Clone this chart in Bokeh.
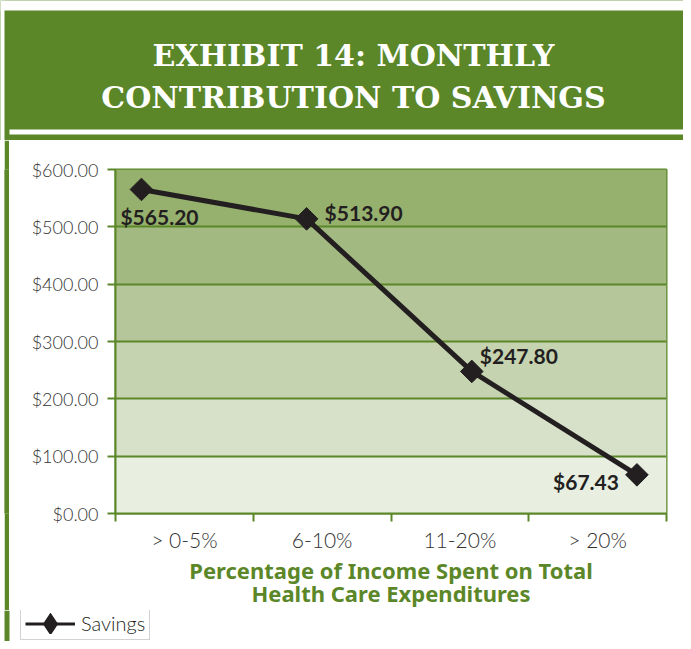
import math
from bokeh.plotting import figure
from bokeh.models import (Range1d, FixedTicker, NumeralTickFormatter,
                          BoxAnnotation, ColumnDataSource, Legend, LegendItem)
from bokeh.layouts import column, row
from bokeh.core.properties import value
from bokeh.embed import file_html
from bokeh.resources import INLINE

# ---------------- data ----------------
title_lines = ["EXHIBIT 14: MONTHLY", "CONTRIBUTION TO SAVINGS"]
categories = ["> 0-5%", "6-10%", "11-20%", "> 20%"]
savings = [565.20, 513.90, 247.80, 67.43]
series_name = "Savings"
y_ticks = [0, 100, 200, 300, 400, 500, 600]
x_axis_title = "Percentage of Income Spent on Total\nHealth Care Expenditures"

# ---------------- styles ----------------
GREEN = "#5b8728"
INK = "#231f20"
TICK_TXT = "#333333"
band_colors = ["#e8eee0", "#d7e0c8", "#c6d3b0", "#b5c79a", "#a2b982", "#96b06e"]
label_align = ["left", "left", "left", "right"]
label_dx = [-21, 18, 8, -18]
label_dy = [27, -6, -16, 7]
SERIES_RANGE = (0.343, 3.679)   # the series' own x-range, inset within the category axis

W = 683
HDR_H = 140
MAIN_H = 470
LEG_H = 31
STRIP_W = 9

# ---------------- header ----------------
hdr = figure(width=W, height=HDR_H, x_range=Range1d(0, W), y_range=Range1d(HDR_H, 0),
             output_backend="svg", toolbar_location=None, min_border=0,
             x_axis_type=None, y_axis_type=None)
hdr.grid.visible = False
hdr.outline_line_color = None
hdr.background_fill_color = GREEN
hdr.border_fill_color = GREEN
hdr.quad(left=[0, 0, STRIP_W], right=[W, 4, W], top=[0, 0, 129], bottom=[10, HDR_H, 134],
         fill_color="white", line_color=None)
hdr.text(x=[353, 353], y=[55, 97], text=title_lines, text_color="white",
         text_font=value("DejaVu Serif"), text_font_style="bold", text_font_size="30px",
         text_align="center", text_baseline="middle")

# ---------------- left border strip (green bar, 4px white gap on its left) ----------------
strip = figure(width=STRIP_W - 4, height=MAIN_H, output_backend="svg",
               toolbar_location=None, min_border=0, x_axis_type=None, y_axis_type=None,
               x_range=Range1d(0, 1), y_range=Range1d(0, 1), margin=(0, 0, 0, 4))
strip.grid.visible = False
strip.outline_line_color = None
strip.background_fill_color = GREEN
strip.border_fill_color = GREEN
strip.quad(left=[0], right=[1], bottom=[0], top=[1], fill_color=GREEN, line_color=None)

# ---------------- main chart ----------------
n = len(categories)
p = figure(width=W - STRIP_W, height=MAIN_H,
           x_range=Range1d(0, n), y_range=Range1d(y_ticks[0], y_ticks[-1]),
           output_backend="svg", toolbar_location=None,
           min_border_left=106, min_border_right=17, min_border_top=29, min_border_bottom=97)
p.extra_x_ranges = {"series": Range1d(*SERIES_RANGE)}
p.background_fill_color = "white"
p.border_fill_color = "white"
p.outline_line_color = GREEN
p.outline_line_width = 2

for lo, hi, c in zip(y_ticks[:-1], y_ticks[1:], band_colors):
    p.add_layout(BoxAnnotation(bottom=lo, top=hi, fill_color=c, fill_alpha=1,
                               line_color=None, level="image"))

p.xgrid.grid_line_color = None
p.ygrid.grid_line_color = GREEN
p.ygrid.grid_line_width = 2

centers = [i + 0.5 for i in range(n)]
bounds = list(range(n + 1))
xa = p.xaxis[0]
xa.ticker = FixedTicker(ticks=centers, minor_ticks=bounds)
xa.major_label_overrides = {c: cat for c, cat in zip(centers, categories)}
xa.axis_line_color = GREEN
xa.axis_line_width = 2
xa.major_tick_line_color = None
xa.major_tick_out = 8
xa.major_tick_in = 0
xa.minor_tick_line_color = GREEN
xa.minor_tick_line_width = 2
xa.minor_tick_out = 8
xa.minor_tick_in = 0
xa.major_label_standoff = 5
xa.major_label_text_font = "Lato Light"
xa.major_label_text_font_size = "21px"
xa.major_label_text_color = TICK_TXT
xa.axis_label = x_axis_title
xa.axis_label_text_font = "Noto Sans"
xa.axis_label_text_font_style = "bold"
xa.axis_label_text_font_size = "22px"
xa.axis_label_text_color = GREEN
xa.axis_label_text_align = "center"
xa.axis_label_text_line_height = 0.78
xa.axis_label_standoff = 0

ya = p.yaxis[0]
ya.ticker = FixedTicker(ticks=y_ticks)
ya.formatter = NumeralTickFormatter(format="$0,0.00")
ya.axis_line_color = GREEN
ya.axis_line_width = 2
ya.major_tick_line_color = GREEN
ya.major_tick_line_width = 2
ya.major_tick_out = 8
ya.major_tick_in = 0
ya.minor_tick_line_color = None
ya.major_label_standoff = 9
ya.major_label_text_font = "Lato Light"
ya.major_label_text_font_size = "18px"
ya.major_label_text_color = TICK_TXT

src = ColumnDataSource(dict(x=centers, cat=categories, val=savings,
                            label=[f"${v:,.2f}" for v in savings],
                            align=label_align, dx=label_dx, dy=label_dy))
p.line("x", "val", source=src, x_range_name="series", line_color=INK, line_width=5)
p.scatter("x", "val", source=src, x_range_name="series", marker="square",
          angle=math.pi / 4, size=16, fill_color=INK, line_color=INK)
p.text("x", "val", text="label", source=src, x_range_name="series",
       text_align="align", x_offset="dx", y_offset="dy", text_baseline="middle",
       text_font=value("Lato"), text_font_style="bold", text_font_size="21px",
       text_color=INK)

# ---------------- bottom strip with legend ----------------
bf = figure(width=W, height=LEG_H, output_backend="svg", toolbar_location=None,
            min_border=0, x_axis_type=None, y_axis_type=None,
            x_range=Range1d(0, W), y_range=Range1d(0, 1))
bf.grid.visible = False
bf.outline_line_color = None
bf.background_fill_color = "white"
bf.border_fill_color = "white"
bf.quad(left=[4], right=[STRIP_W], bottom=[0], top=[1], fill_color=GREEN, line_color=None)
# hidden proxies of the series, used only for the legend sample
leg_ln = bf.line(x=centers, y=savings, line_color=INK, line_width=3, visible=False)
leg_mk = bf.scatter(x=centers, y=savings, marker="diamond", fill_color=INK, line_color=INK,
                    line_width=8, line_join="miter", visible=False)
legend = Legend(items=[LegendItem(label=series_name, renderers=[leg_ln, leg_mk])],
                location=(20, 1), orientation="vertical",
                border_line_color="#a6a6a6", border_line_width=1.5,
                background_fill_color="white", background_fill_alpha=1,
                inactive_fill_alpha=0,
                padding=4, spacing=0, margin=0, glyph_width=50, glyph_height=21,
                label_standoff=6, label_height=20,
                label_text_font="Lato Light", label_text_font_size="20px",
                label_text_color=INK)
bf.add_layout(legend, "center")

layout = column(hdr, row(strip, p, spacing=0), bf, spacing=0)

open("out.html", "w").write(file_html(layout, INLINE))
